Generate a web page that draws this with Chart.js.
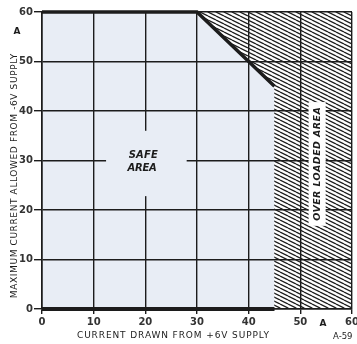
<!DOCTYPE html>
<html>
<head>
<meta charset="utf-8">
<script src="https://cdn.jsdelivr.net/npm/chart.js@4.4.1/dist/chart.umd.min.js"></script>
<style>
  html, body { margin: 0; padding: 0; background: #fff; }
  #wrap { width: 357px; height: 344px; position: relative; }
</style>
</head>
<body>
<div id="wrap"><canvas id="soa-chart"></canvas></div>
<script>
// limit curve: max current allowed from -6V vs current drawn from +6V (A)
const limitX = [0, 30, 40, 45]
const limitY = [60, 60, 50, 45]
// top edge of the overloaded (hatched) region
const overX = [30, 60]
const overY = [60, 60]
// heavy base line
const baseX = [0, 45]
const baseY = [0, 0]
const xTicks = [0, 10, 20, 30, 40, 50, 60]
const yTicks = [0, 10, 20, 30, 40, 50, 60]

const xTitle = "CURRENT DRAWN FROM +6V SUPPLY"
const yTitle = "MAXIMUM CURRENT ALLOWED FROM -6V SUPPLY"
const safeLabel = ["SAFE", "AREA"]
const overLabel = "OVER LOADED AREA"
const unit = "A"
const figRef = "A-59"

const ink = '#1c1c1c'
const safeFill = '#e8edf5'
const font = '"DejaVu Sans", sans-serif'

const pts = (xs, ys) => xs.map((x, i) => ({x: x, y: ys[i]}))

function hatch() {
    const c = document.createElement('canvas')
    c.width = 8
    c.height = 4
    const g = c.getContext('2d')
    g.fillStyle = '#fff'
    g.fillRect(0, 0, 8, 4)
    g.strokeStyle = '#1e1e1e'
    g.lineWidth = 1.3
    for (let k = -4; k <= 4; k += 4) {
        g.beginPath()
        g.moveTo(0, k)
        g.lineTo(8, k + 4)
        g.stroke()
    }
    return g.createPattern(c, 'repeat')
}

// draw text stretched to a given width, centred on cx
function spread(ctx, text, cx, cy, width) {
    ctx.letterSpacing = '0px'
    const w = ctx.measureText(text).width
    const s = (width - w) / text.length
    ctx.letterSpacing = s + 'px'
    ctx.fillText(text, cx + s / 2, cy)
    ctx.letterSpacing = '0px'
}

const notes = {
    id: 'notes',
    afterDraw(chart) {
        const {ctx, scales: {x, y}} = chart
        ctx.save()
        ctx.textAlign = 'center'
        ctx.textBaseline = 'middle'

        // SAFE AREA, with the grid broken round it
        ctx.fillStyle = safeFill
        const sx0 = x.getPixelForValue(12.4), sx1 = x.getPixelForValue(28)
        const sy0 = y.getPixelForValue(36), sy1 = y.getPixelForValue(22.8)
        ctx.fillRect(sx0, sy0, sx1 - sx0, sy1 - sy0)
        ctx.fillStyle = ink
        ctx.font = 'italic bold 10px ' + font
        spread(ctx, safeLabel[0], x.getPixelForValue(19.6), y.getPixelForValue(31), 29)
        spread(ctx, safeLabel[1], x.getPixelForValue(19.4), y.getPixelForValue(28.5), 29)

        // OVER LOADED AREA in a white strip
        ctx.fillStyle = '#fff'
        const ox0 = x.getPixelForValue(51.6), ox1 = x.getPixelForValue(54.9)
        const oy0 = y.getPixelForValue(41.8), oy1 = y.getPixelForValue(16.8)
        ctx.fillRect(ox0, oy0, ox1 - ox0, oy1 - oy0)
        ctx.fillStyle = ink
        ctx.save()
        ctx.translate((ox0 + ox1) / 2, (oy0 + oy1) / 2)
        ctx.rotate(-Math.PI / 2)
        ctx.font = 'italic bold 9.5px ' + font
        spread(ctx, overLabel, 0, 0, 114)
        ctx.restore()

        // axis titles
        ctx.font = '9px ' + font
        spread(ctx, xTitle, 173, 336, 193)
        ctx.save()
        ctx.translate(15, 176)
        ctx.rotate(-Math.PI / 2)
        spread(ctx, yTitle, 0, 0, 245)
        ctx.restore()

        ctx.font = 'bold 9px ' + font
        ctx.fillText(unit, 17, 32)
        ctx.fillText(unit, 323, 324)
        ctx.textAlign = 'left'
        ctx.font = '8.5px ' + font
        ctx.fillText(figRef, 333, 337)
        ctx.restore()
    }
}

const ctx = document.getElementById('soa-chart').getContext('2d')

const tickFont = {family: font, size: 10, weight: 'bold'}

const myChart = new Chart(ctx, {
    type: 'line',
    data: {
        datasets: [{
            data: pts(overX, overY),
            fill: 'origin',
            backgroundColor: hatch(),
            borderColor: 'transparent',
            pointRadius: 0,
            order: 3
        }, {
            data: pts(limitX, limitY),
            fill: 'origin',
            backgroundColor: safeFill,
            borderColor: ink,
            borderWidth: 3.5,
            pointRadius: 0,
            clip: false,
            order: 2
        }, {
            data: pts(baseX, baseY),
            fill: false,
            borderColor: ink,
            borderWidth: 4,
            pointRadius: 0,
            clip: false,
            order: 1
        }]
    },
    options: {
        responsive: true,
        maintainAspectRatio: false,
        animation: false,
        layout: {padding: {top: 12, right: 5, left: 0, bottom: 0}},
        plugins: {legend: {display: false}, tooltip: {enabled: false}},
        scales: {
            x: {
                type: 'linear',
                min: 0,
                max: 60,
                afterBuildTicks: s => { s.ticks = xTicks.map(v => ({value: v})) },
                afterFit: s => { s.height = 35; s.paddingLeft = 0; s.paddingRight = 0 },
                grid: {color: ink, lineWidth: 1.4, z: 1, tickLength: 5},
                border: {color: ink, width: 1.4, z: 1},
                ticks: {color: '#333', font: tickFont, padding: 2, maxRotation: 0}
            },
            y: {
                type: 'linear',
                min: 0,
                max: 60,
                afterBuildTicks: s => { s.ticks = yTicks.map(v => ({value: v})) },
                afterFit: s => { s.width = 42; s.paddingTop = 0; s.paddingBottom = 0 },
                grid: {color: ink, lineWidth: 1.4, z: 1, tickLength: 8},
                border: {color: ink, width: 1.6, z: 1},
                ticks: {color: '#333', font: tickFont, padding: 1}
            }
        }
    },
    plugins: [notes]
})
</script>
</body>
</html>
